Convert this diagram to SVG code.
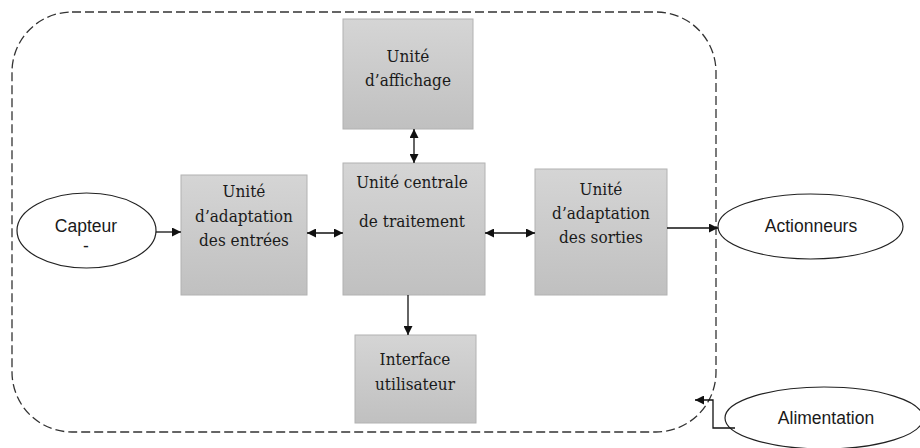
<svg xmlns="http://www.w3.org/2000/svg" width="920" height="448" viewBox="0 0 920 448">
<style>
.box{fill:url(#g);stroke:#b2b2b2;stroke-width:1}
.t{font-family:'DejaVu Serif',serif;font-stretch:condensed;font-size:17px;fill:#1a1a1a;text-anchor:middle}
.s{font-family:'Liberation Sans','DejaVu Sans',sans-serif;font-size:17.5px;fill:#1a1a1a;text-anchor:middle}
.ell{fill:#fff;stroke:#222;stroke-width:1.2}
.c{stroke:#111;stroke-width:1.3;fill:none}
</style>
<defs>
<linearGradient id="g" x1="0" y1="0" x2="0" y2="1">
<stop offset="0" stop-color="#d5d5d5"/>
<stop offset="1" stop-color="#c0c0c0"/>
</linearGradient>
<marker id="ah" viewBox="0 0 10 10" refX="10" refY="5" markerWidth="10" markerHeight="9" markerUnits="userSpaceOnUse" orient="auto-start-reverse">
<path d="M0,0 L10,5 L0,10 z" fill="#111"/>
</marker>
</defs>
<g id="frontiere">
<rect x="12" y="12" width="704" height="420" rx="60" ry="60" fill="none" stroke="#333" stroke-width="1.3" stroke-dasharray="9 4"/>
</g>
<g id="affichage">
<rect class="box" x="343" y="19" width="130" height="110"/>
<text class="t" x="408" y="62">Unité</text>
<text class="t" x="408" y="86">d’affichage</text>
</g>
<g id="centrale">
<rect class="box" x="343" y="163" width="142" height="132"/>
<text class="t" x="412" y="188">Unité centrale</text>
<text class="t" x="412" y="227">de traitement</text>
</g>
<g id="entrees">
<rect class="box" x="181" y="175" width="126" height="120"/>
<text class="t" x="244" y="197">Unité</text>
<text class="t" x="244" y="222">d’adaptation</text>
<text class="t" x="244" y="246">des entrées</text>
</g>
<g id="sorties">
<rect class="box" x="535" y="169" width="132" height="126"/>
<text class="t" x="601" y="195">Unité</text>
<text class="t" x="601" y="219">d’adaptation</text>
<text class="t" x="601" y="243">des sorties</text>
</g>
<g id="interface">
<rect class="box" x="355" y="335" width="121" height="88"/>
<text class="t" x="415" y="365">Interface</text>
<text class="t" x="415" y="390">utilisateur</text>
</g>
<g id="capteur">
<ellipse class="ell" cx="86.5" cy="230.5" rx="69.5" ry="37.5"/>
<text class="s" x="86" y="232">Capteur</text>
<text class="s" x="86" y="252">-</text>
</g>
<g id="actionneurs">
<ellipse class="ell" cx="810.5" cy="226.5" rx="92.5" ry="32.5"/>
<text class="s" x="811" y="232">Actionneurs</text>
</g>
<g id="alimentation">
<ellipse class="ell" cx="824" cy="418" rx="99" ry="31"/>
<text class="s" x="826" y="424">Alimentation</text>
</g>
<g id="connecteurs">
<line class="c" x1="156" y1="232" x2="181" y2="232" marker-end="url(#ah)"/>
<line class="c" x1="307" y1="233" x2="343" y2="233" marker-start="url(#ah)" marker-end="url(#ah)"/>
<line class="c" x1="485" y1="233" x2="535" y2="233" marker-start="url(#ah)" marker-end="url(#ah)"/>
<line class="c" x1="667" y1="228" x2="718" y2="228" marker-end="url(#ah)"/>
<line class="c" x1="414" y1="129" x2="414" y2="163" stroke-width="2.2" marker-start="url(#ah)" marker-end="url(#ah)"/>
<line class="c" x1="408" y1="295" x2="408" y2="335" marker-end="url(#ah)"/>
<polyline class="c" points="735,428 713,428 713,400 695,400" marker-end="url(#ah)"/>
</g>
</svg>
